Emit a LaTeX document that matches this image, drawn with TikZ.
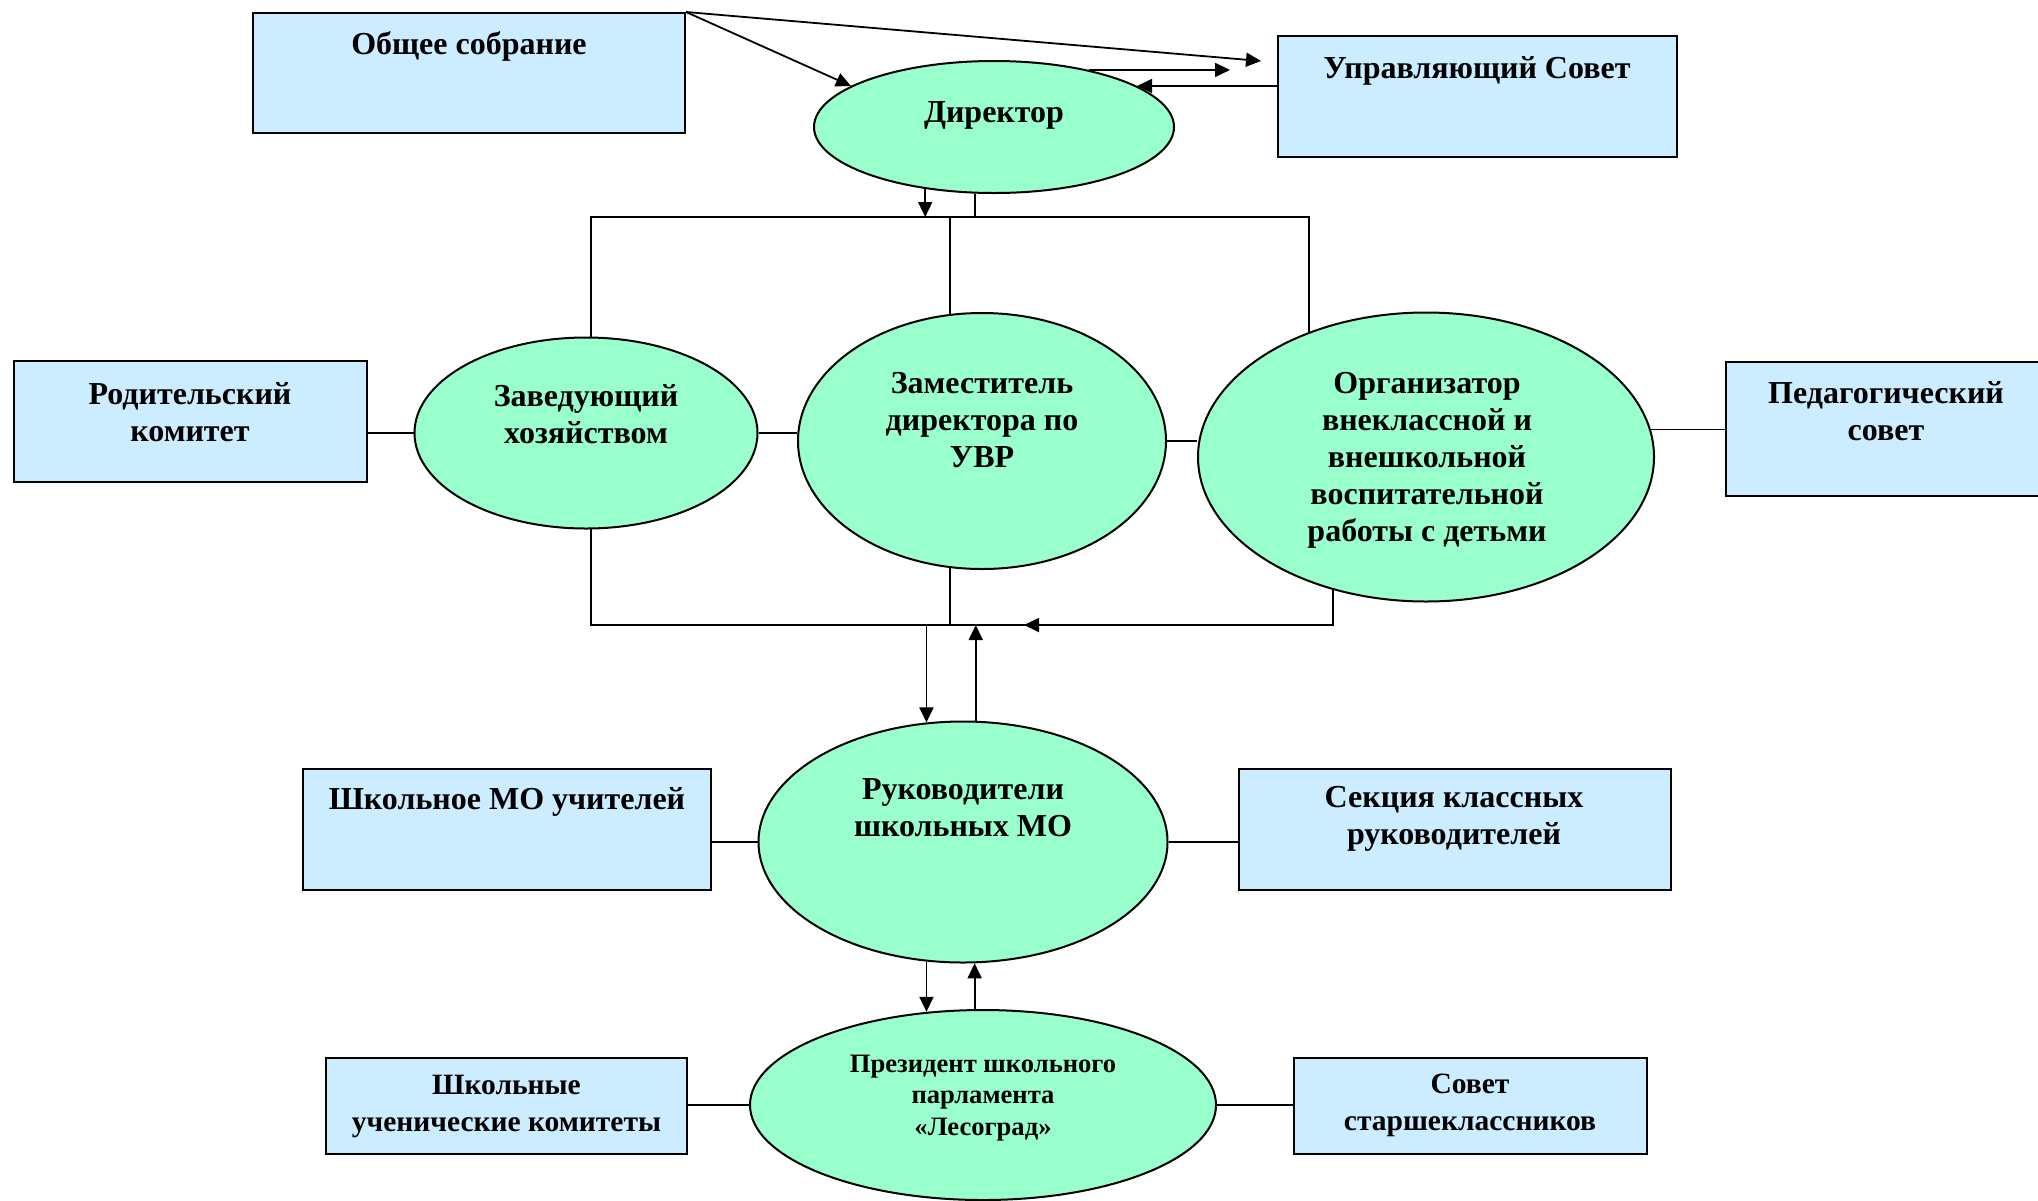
\documentclass[tikz,border=0pt]{standalone}
\usepackage{fontspec}
\setmainfont{Liberation Serif}
\usepackage{tikz}
\usetikzlibrary{shapes.geometric, arrows.meta}

\definecolor{boxblue}{HTML}{CCECFF}
\definecolor{ovalgreen}{HTML}{99FFCC}

\tikzset{
  box/.style={draw=black, line width=1pt, fill=boxblue, inner sep=0pt},
  oval/.style={ellipse, draw=black, line width=1pt, fill=ovalgreen, inner sep=0pt},
  lbl/.style={align=center, inner sep=0pt, font=\bfseries\fontsize{16}{18.5}\selectfont},
  lowlbl/.style={align=center, inner sep=0pt, font=\bfseries\fontsize{14.75}{18.5}\selectfont},
  smalllbl/.style={align=center, inner sep=0pt, font=\bfseries\fontsize{13.3}{15.75}\selectfont},
  arr/.style={-{Triangle[length=7.5pt,width=7pt]}}
}

\begin{document}
\begin{tikzpicture}[x=0.5pt, y=-0.5pt, line width=0.9pt]
  \useasboundingbox (0,0) rectangle (2038,1200);

  % boxes
  \node[box, minimum width=216pt, minimum height=60pt] (obs) at (469,73) {};
  \node[box, minimum width=199.5pt, minimum height=60.5pt] (upr) at (1477.5,96.5) {};
  \node[box, minimum width=176.5pt, minimum height=60.5pt] (rod) at (190.5,421.5) {};
  \node[box, minimum width=161pt, minimum height=67pt] (ped) at (1887,429) {};
  \node[box, minimum width=204pt, minimum height=60.5pt] (shk) at (507,829.5) {};
  \node[box, minimum width=216pt, minimum height=60.5pt] (sek) at (1455,829.5) {};
  \node[box, minimum width=180.5pt, minimum height=48pt] (kom) at (506.5,1106) {};
  \node[box, minimum width=176.5pt, minimum height=48pt] (sov) at (1470.5,1106) {};

  % ovals
  \node[oval, minimum width=180pt, minimum height=66pt] (dir) at (994,127) {};
  \node[oval, minimum width=171.5pt, minimum height=95.5pt] (zav) at (586,433) {};
  \node[oval, minimum width=184pt, minimum height=128pt] (zam) at (982,441) {};
  \node[oval, minimum width=228pt, minimum height=144.5pt] (org) at (1426,457) {};
  \node[oval, minimum width=204.5pt, minimum height=120.5pt] (ruk) at (963,842) {};
  \node[oval, minimum width=233pt, minimum height=95pt] (pres) at (983,1105) {};

  % texts
  \node[lbl] (obsT) at (469,46) {Общее собрание};
  \node[lbl] (uprT) at (1477,71) {Управляющий Совет};
  \node[lbl] (dirT) at (994,115) {Директор};
  \node[lbl] (rodT) at (190,412.5) {Родительский\\комитет};
  \node[lbl] (pedT) at (1886,411) {Педагогический\\совет};
  \node[lbl] (zavT) at (586,414.5) {Заведующий\\хозяйством};
  \node[lbl] (zamT) at (982,420) {Заместитель\\директора по\\УВР};
  \node[lbl] (orgT) at (1427,460) {Организатор\\внеклассной и\\внешкольной\\воспитательной\\работы с детьми};
  \node[lbl] (rukT) at (963,807.5) {Руководители\\школьных МО};
  \node[lbl] (shkT) at (507,802) {Школьное МО учителей};
  \node[lbl] (sekT) at (1454,818.5) {Секция классных\\руководителей};
  \node[smalllbl] (presT) at (983,1098) {Президент школьного\\парламента\\«Лесоград»};
  \node[lowlbl] (komT) at (506.5,1106.5) {Школьные\\ученические комитеты};
  \node[lowlbl] (sovT) at (1470,1105) {Совет\\старшеклассников};

  % top arrows
  \coordinate (uprtip) at (1261,61);
  \draw[arr] (obs.north east) -- (dir.164);
  \draw[arr] (obs.north east) -- (uprtip);
  \draw[arr, shorten >=23.5pt] (dir.31) -- (upr.west |- dir.31);
  \draw[arr] (upr.west |- dir.16) -- (dir.16);

  % upper bus
  \coordinate (topbus) at (0,217);
  \draw[arr] (dir.222) -- (dir.222 |- topbus);
  \draw (dir.254) -- (dir.254 |- topbus);
  \draw (zav.87) -- (zav.87 |- topbus) -| (org.133);
  \draw (zam.104) -- (zam.104 |- topbus);

  % middle row
  \draw (zav.west) -- (zav.west -| rod.east);
  \draw (zav.east) -- (zav.east -| zam.west);
  \draw (zam.east) -- (org.west |- zam.east);
  \draw (org.7) -- (org.7 -| ped.west);

  % lower bus
  \coordinate (botbus) at (0,625);
  \coordinate (bustip) at (1024,625);
  \draw (zav.273) -- (zav.273 |- botbus) -| (org.235);
  \draw (zam.256) -- (zam.256 |- botbus);
  \draw[arr] (org.235 |- botbus) -- (bustip);
  \draw[arr] (ruk.107 |- botbus) -- (ruk.107);
  \draw[arr] (ruk.84) -- (ruk.84 |- botbus);

  % lower part
  \draw (ruk.west) -- (ruk.west -| shk.east);
  \draw (ruk.east) -- (ruk.east -| sek.west);
  \draw[arr] (ruk.253) -- (ruk.253 |- pres.121);
  \draw[arr] (pres.95) -- (pres.95 |- ruk.276);
  \draw (pres.west) -- (pres.west -| kom.east);
  \draw (pres.east) -- (pres.east -| sov.west);
\end{tikzpicture}
\end{document}
